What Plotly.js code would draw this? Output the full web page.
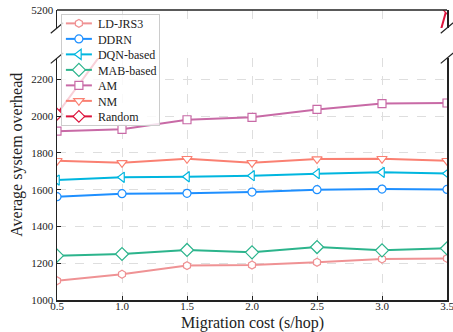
<!DOCTYPE html>
<html>
<head>
<meta charset="utf-8">
<script src="https://cdn.plot.ly/plotly-3.0.1.min.js"></script>
<style>
  html, body { margin: 0; padding: 0; background: #fff; }
  #chart { width: 453px; height: 332px; }
</style>
</head>
<body>
<div id="chart"></div>
<script>
// Migration cost (s/hop)
const migrationCost = [0.5, 1.0, 1.5, 2.0, 2.5, 3.0, 3.5];

// Average system overhead per method
const ldJrs3   = [1105, 1140, 1187, 1190, 1205, 1223, 1226];
const ddrn     = [1562, 1578, 1580, 1587, 1600, 1603, 1601];
const dqnBased = [1652, 1667, 1670, 1676, 1687, 1694, 1688];
const mabBased = [1241, 1250, 1272, 1259, 1288, 1270, 1281];
const am       = [1918, 1928, 1980, 1993, 2036, 2068, 2071];
const nm       = [1757, 1746, 1768, 1746, 1766, 1768, 1757];
const randomM  = [2010, 2490, 2760, 2950, 3100, 3270, 5217];

const FONT = "Liberation Serif, Times New Roman, serif";
const INK = "#222222";

function series(name, y, color, symbol, size, extra) {
  return Object.assign({
    type: "scatter", mode: "lines+markers", name: name,
    x: migrationCost, y: y,
    line: { color: color, width: 2 },
    marker: { symbol: symbol, size: size, color: "#ffffff",
              line: { color: color, width: 1.2 } },
    cliponaxis: true
  }, extra || {});
}

const traces = [
  series("LD-JRS3",   ldJrs3,   "#ef9294", "hexagon",       8),
  series("DDRN",      ddrn,     "#1e8fff", "circle",        8),
  series("DQN-based", dqnBased, "#00b6df", "triangle-left", 9),
  series("MAB-based", mabBased, "#2cb48c", "diamond",       10),
  series("AM",        am,       "#c86aa6", "square",        8),
  series("NM",        nm,       "#fa8072", "triangle-down", 9),
  series("Random",    randomM,  "#dc143c", "diamond",       9),
  // same series on the upper part of the broken axis
  series("Random",    randomM,  "#dc143c", "diamond",       9,
         { yaxis: "y2", showlegend: false })
];

const lowTop = 0.834, highBottom = 0.938;
const bx = 0.016, by = 0.018;
function brk(x, y) {
  return { type: "line", xref: "paper", yref: "paper",
           x0: x - bx, y0: y - by, x1: x + bx, y1: y + by,
           line: { color: INK, width: 1.2 } };
}

const gridStyle = { showgrid: true, gridcolor: "#dedede", gridwidth: 1, griddash: "dash" };
const tickFont = { family: FONT, size: 11, color: INK };

const layout = {
  width: 453, height: 332,
  margin: { l: 57, r: 6, t: 10, b: 32 },
  paper_bgcolor: "#ffffff", plot_bgcolor: "#ffffff",
  font: { family: FONT, size: 11, color: INK },
  showlegend: true,
  legend: {
    x: 0.01, y: 0.986, xanchor: "left", yanchor: "top",
    bgcolor: "rgba(255,255,255,0.8)", bordercolor: "#cccccc", borderwidth: 1,
    font: { family: FONT, size: 12, color: INK },
    traceorder: "normal"
  },
  xaxis: Object.assign({
    range: [0.5, 3.5], tick0: 0.5, dtick: 0.5, tickformat: ".1f",
    ticks: "inside", ticklen: 4, tickcolor: INK,
    showline: true, linecolor: INK, linewidth: 1.5,
    zeroline: false, tickfont: tickFont, ticklabelstandoff: -5,
    ticklabeloverflow: "allow"
  }, gridStyle),
  yaxis: Object.assign({
    domain: [0, lowTop], range: [1000, 2315], tick0: 1000, dtick: 200,
    ticks: "inside", ticklen: 4, tickcolor: INK,
    showline: true, mirror: true, linecolor: INK, linewidth: 1.5,
    zeroline: false, tickfont: tickFont
  }, gridStyle),
  yaxis2: Object.assign({
    domain: [highBottom, 1], range: [5050, 5200], tickvals: [5200],
    anchor: "x",
    ticks: "inside", ticklen: 4, tickcolor: INK,
    showline: true, mirror: true, linecolor: INK, linewidth: 1.5,
    zeroline: false, tickfont: tickFont
  }, gridStyle),
  shapes: [
    { type: "line", xref: "paper", yref: "paper", x0: 0, x1: 1, y0: 1, y1: 1,
      line: { color: INK, width: 1.5 } },
    brk(0, highBottom), brk(1, highBottom), brk(0, lowTop), brk(1, lowTop)
  ],
  annotations: [
    { text: "Average system overhead", xref: "paper", yref: "paper",
      x: -0.103, y: 0.5, xanchor: "center", yanchor: "middle",
      textangle: -90, showarrow: false,
      font: { family: FONT, size: 16, color: INK } },
    { text: "Migration cost (s/hop)", xref: "paper", yref: "paper",
      x: 0.5, y: -0.078, xanchor: "center", yanchor: "middle",
      showarrow: false,
      font: { family: FONT, size: 16, color: INK } }
  ]
};

// Compact legend: 15.5px row pitch, shorter line samples.
function compactLegend(gd) {
  const leg = gd.querySelector("g.legend");
  if (!leg) return;
  const items = Array.from(leg.querySelectorAll("g.traces"));
  const bg = leg.querySelector("rect.bg");
  if (!items.length || !bg) return;
  const pitch = 15.5, topPad = 9.5, bottomPad = 8, shift = 4;
  const center = el => {
    const t = el.querySelector("text.legendtext") || el;
    const r = t.getBoundingClientRect();
    return r.top + r.height / 2;
  };
  const parse = el => {
    const m = /translate\(\s*([-\d.]+)[ ,]+([-\d.]+)\s*\)/.exec(el.getAttribute("transform") || "");
    return m ? [parseFloat(m[1]), parseFloat(m[2])] : [0, 0];
  };
  const bgTop = bg.getBoundingClientRect().top;
  items.forEach((el, i) => {
    const dy = (bgTop + topPad + i * pitch) - center(el);
    const p = parse(el);
    el.setAttribute("transform", "translate(" + p[0] + "," + (p[1] + dy) + ")");
    const t = el.querySelector("text.legendtext");
    if (t) t.setAttribute("x", parseFloat(t.getAttribute("x") || 40) - shift);
    el.querySelectorAll("g.legendlines path").forEach(pth => pth.setAttribute("d", "M4,0h26"));
    el.querySelectorAll("g.legendpoints path.scatterpts").forEach(pt =>
      pt.setAttribute("transform", "translate(17,0)"));
  });
  const lastC = center(items[items.length - 1]);
  bg.setAttribute("height", (lastC + bottomPad) - bgTop);
  bg.setAttribute("width", parseFloat(bg.getAttribute("width")) - shift - 3);
}

const gd = document.getElementById("chart");
Plotly.newPlot(gd, traces, layout, { displayModeBar: false, staticPlot: true })
  .then(() => compactLegend(gd));
</script>
</body>
</html>
